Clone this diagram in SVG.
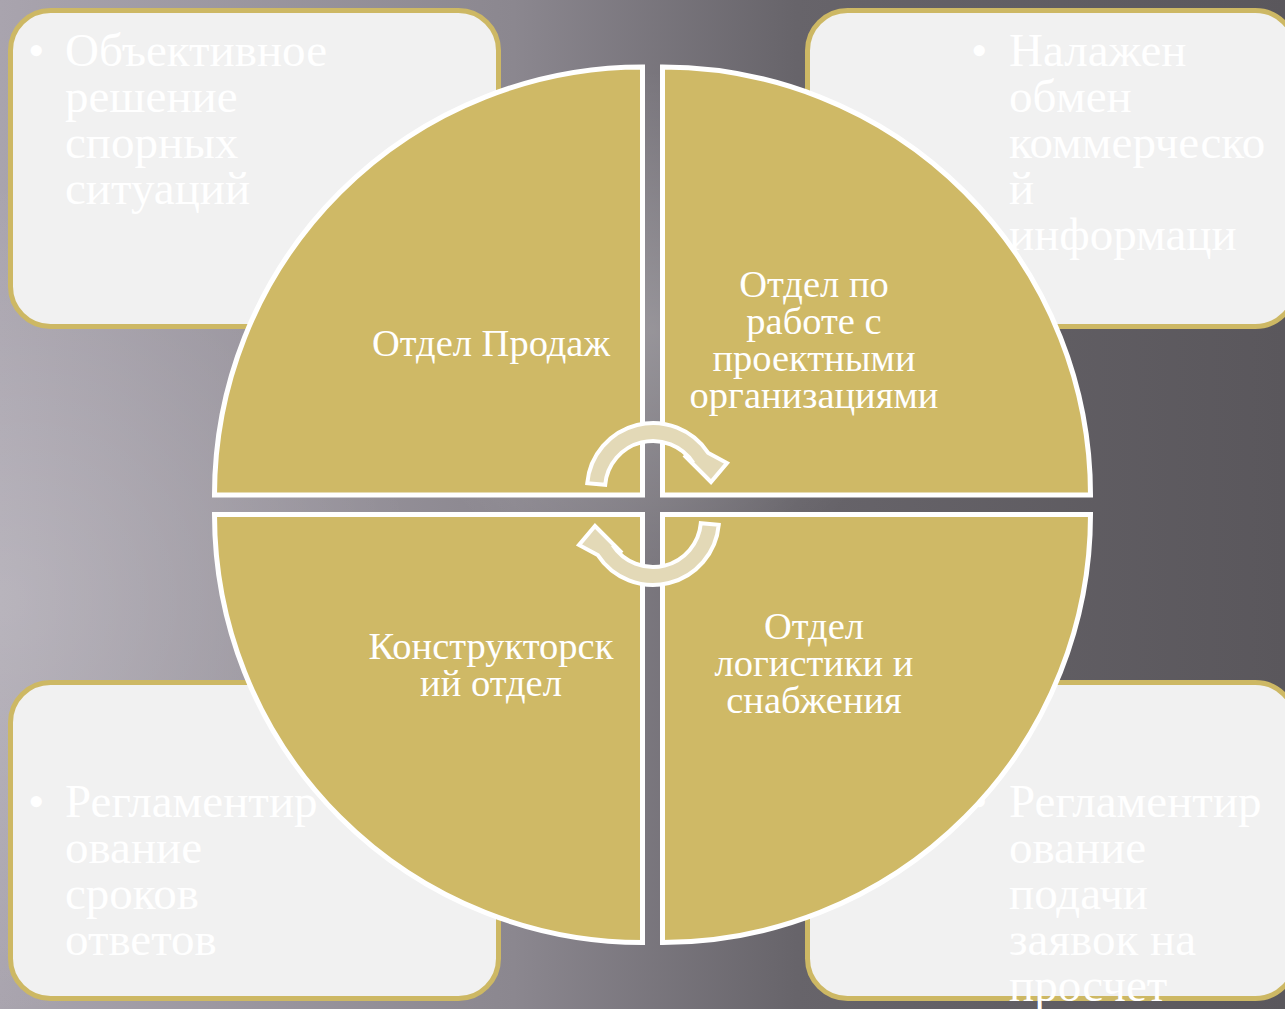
<svg xmlns="http://www.w3.org/2000/svg" width="1285" height="1009" viewBox="0 0 1285 1009">
  <defs>
    <linearGradient id="bg" x1="0" y1="0" x2="1285" y2="0" gradientUnits="userSpaceOnUse">
      <stop offset="0" stop-color="#a9a4ae"/>
      <stop offset="0.4" stop-color="#8b878f"/>
      <stop offset="0.62" stop-color="#67646a"/>
      <stop offset="1" stop-color="#5a575c"/>
    </linearGradient>
    <radialGradient id="glowL" cx="0" cy="600" r="420" gradientUnits="userSpaceOnUse">
      <stop offset="0" stop-color="#ffffff" stop-opacity="0.18"/>
      <stop offset="1" stop-color="#ffffff" stop-opacity="0"/>
    </radialGradient>
    <radialGradient id="glowC" cx="652" cy="330" r="260" gradientUnits="userSpaceOnUse">
      <stop offset="0" stop-color="#ffffff" stop-opacity="0.22"/>
      <stop offset="1" stop-color="#ffffff" stop-opacity="0"/>
    </radialGradient>
    <path id="cycArrow" d="M -65.75 -5.75 A 66 66 0 0 1 55.35 -35.95 L 74 -26 L 58 -7 L 31 -34 L 40.26 -26.14 A 48 48 0 0 0 -47.82 -4.18 Z"/>
    <style>
      .box { fill: #f1f1f1; stroke: #cdb864; stroke-width: 5; }
      .btxt { font-family: "Liberation Serif", "DejaVu Serif", serif; font-size: 47px; fill: #ffffff; }
      .quad { fill: #cfb966; stroke: #ffffff; stroke-width: 5; stroke-linejoin: miter; }
      .qtxt { font-family: "Liberation Serif", "DejaVu Serif", serif; font-size: 38.5px; fill: #ffffff; text-anchor: middle; }
      .arrow { fill: #e3d9b7; stroke: #ffffff; stroke-width: 4; stroke-linejoin: miter; }
    </style>
  </defs>

  <rect x="0" y="0" width="1285" height="1009" fill="url(#bg)"/>
  <rect x="0" y="0" width="1285" height="1009" fill="url(#glowL)"/>
  <rect x="0" y="0" width="1285" height="1009" fill="url(#glowC)"/>

  <g id="box-top-left">
    <rect class="box" x="10.5" y="10.5" width="488" height="316" rx="40" ry="40"/>
    <text class="btxt" x="28" y="66">•</text>
    <text class="btxt" x="65" y="66">Объективное</text>
    <text class="btxt" x="65" y="112">решение</text>
    <text class="btxt" x="65" y="158">спорных</text>
    <text class="btxt" x="65" y="204">ситуаций</text>
  </g>

  <g id="box-top-right">
    <rect class="box" x="807.5" y="10.5" width="488" height="316" rx="40" ry="40"/>
    <text class="btxt" x="971" y="66">•</text>
    <text class="btxt" x="1009" y="66">Налажен</text>
    <text class="btxt" x="1009" y="112">обмен</text>
    <text class="btxt" x="1009" y="158">коммерческо</text>
    <text class="btxt" x="1009" y="204">й</text>
    <text class="btxt" x="1009" y="250">информаци</text>
  </g>

  <g id="box-bottom-left">
    <rect class="box" x="10.5" y="682.5" width="488" height="316" rx="40" ry="40"/>
    <text class="btxt" x="28" y="817">•</text>
    <text class="btxt" x="65" y="817">Регламентир</text>
    <text class="btxt" x="65" y="863">ование</text>
    <text class="btxt" x="65" y="909">сроков</text>
    <text class="btxt" x="65" y="955">ответов</text>
  </g>

  <g id="box-bottom-right">
    <rect class="box" x="807.5" y="682.5" width="488" height="316" rx="40" ry="40"/>
    <text class="btxt" x="971" y="817">•</text>
    <text class="btxt" x="1009" y="817">Регламентир</text>
    <text class="btxt" x="1009" y="863">ование</text>
    <text class="btxt" x="1009" y="909">подачи</text>
    <text class="btxt" x="1009" y="955">заявок на</text>
    <text class="btxt" x="1009" y="1001">просчет</text>
  </g>

  <g id="quad-sales">
    <path class="quad" d="M 642.5 495 L 214.5 495 A 428 428 0 0 1 642.5 67 Z"/>
    <text class="qtxt" x="491" y="356">Отдел Продаж</text>
  </g>

  <g id="quad-projects">
    <path class="quad" d="M 662.5 495 L 662.5 67 A 428 428 0 0 1 1090.5 495 Z"/>
    <text class="qtxt" x="814" y="297">Отдел по</text>
    <text class="qtxt" x="814" y="334">работе с</text>
    <text class="qtxt" x="814" y="371">проектными</text>
    <text class="qtxt" x="814" y="408">организациями</text>
  </g>

  <g id="quad-design">
    <path class="quad" d="M 642.5 514.5 L 642.5 942.5 A 428 428 0 0 1 214.5 514.5 Z"/>
    <text class="qtxt" x="491" y="659">Конструкторск</text>
    <text class="qtxt" x="491" y="696">ий отдел</text>
  </g>

  <g id="quad-logistics">
    <path class="quad" d="M 662.5 514.5 L 1090.5 514.5 A 428 428 0 0 1 662.5 942.5 Z"/>
    <text class="qtxt" x="814" y="639">Отдел</text>
    <text class="qtxt" x="814" y="676">логистики и</text>
    <text class="qtxt" x="814" y="713">снабжения</text>
  </g>

  <g id="connectors">
    <use href="#cycArrow" class="arrow" transform="translate(653 489)"/>
    <use href="#cycArrow" class="arrow" transform="translate(653 519) rotate(180)"/>
  </g>
</svg>
